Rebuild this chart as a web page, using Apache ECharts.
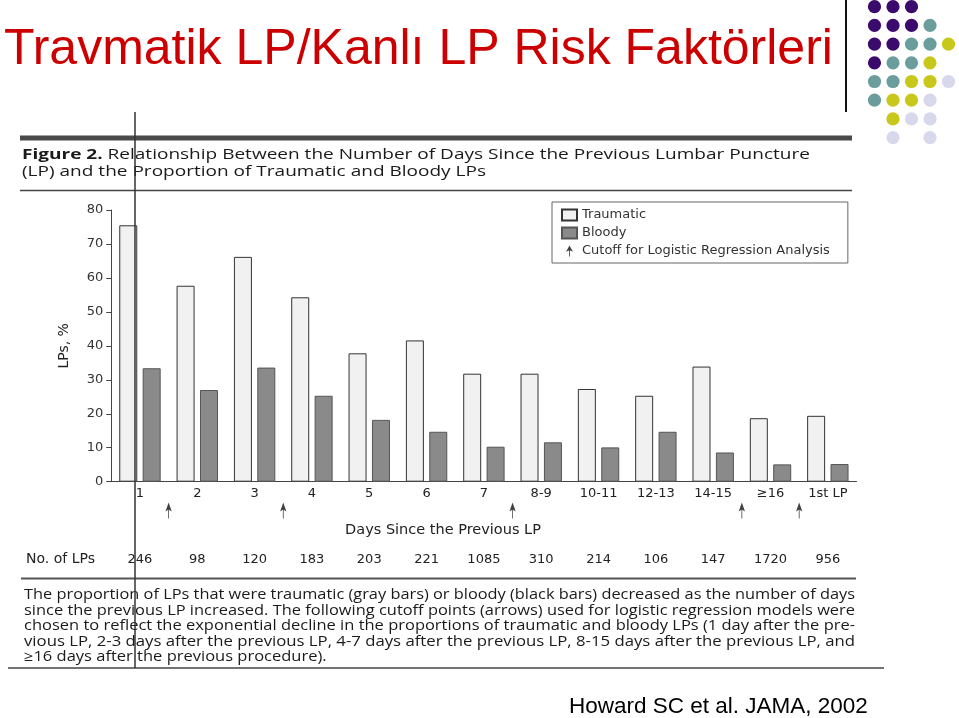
<!DOCTYPE html>
<html>
<head>
<meta charset="utf-8">
<script src="https://cdn.jsdelivr.net/npm/echarts@6/dist/echarts.min.js"></script>
<style>
html,body{margin:0;padding:0;background:#fff;}
#chart{width:959px;height:718px;}
</style>
</head>
<body>
<div id="chart"></div>
<script>
// ---- data ----
const categories = ['1','2','3','4','5','6','7','8-9','10-11','12-13','14-15','\u226516','1st LP'];
const traumatic = [75.5, 57.7, 66.2, 54.3, 37.8, 41.6, 31.8, 31.8, 27.3, 25.3, 33.9, 18.7, 19.4];
const bloody    = [33.4, 27.0, 33.6, 25.3, 18.2, 14.7, 10.3, 11.6, 10.1, 14.7, 8.6, 5.1, 5.2];
const lpCounts  = ['246','98','120','183','203','221','1085','310','214','106','147','1720','956'];
const cutoffs   = [1, 3, 7, 11, 12]; // category boundaries where arrows sit
const yMin = 0, yMax = 80, yInterval = 10;

const slideTitle = 'Travmatik LP/Kanl\u0131 LP Risk Fakt\u00f6rleri';
const citation = 'Howard SC et al. JAMA, 2002';
const figTitle1 = 'Relationship Between the Number of Days Since the Previous Lumbar Puncture';
const figTitle2 = '(LP) and the Proportion of Traumatic and Bloody LPs';
const captionLines = [
  'The proportion of LPs that were traumatic (gray bars) or bloody (black bars) decreased as the number of days',
  'since the previous LP increased. The following cutoff points (arrows) used for logistic regression models were',
  'chosen to reflect the exponential decline in the proportions of traumatic and bloody LPs (1 day after the pre-',
  'vious LP, 2-3 days after the previous LP, 4-7 days after the previous LP, 8-15 days after the previous LP, and',
  '\u226516 days after the previous procedure).'
];

const FIG = '"DejaVu Sans"';
const HUM = '"Open Sans"';
const arrowPath = 'path://M5,0 L10,9 L5,7 L0,9 Z M4.4,7 L5.6,7 L5.6,16 L4.4,16 Z';

// text measuring helper (for horizontally stretched scanned text)
const mctx = document.createElement('canvas').getContext('2d');
function textW(text, font) { mctx.font = font; return mctx.measureText(text).width; }

const figFont = '15px ' + HUM;
const figScale = 464 / textW(figTitle2, figFont);
const capFont = '14px ' + HUM;
const capScales = captionLines.slice(0, 4).map(t => 831 / textW(t, capFont));
const capAvg = capScales.reduce((a, b) => a + b, 0) / capScales.length;
capScales.push(capAvg);

// decorative dot pattern (top right)
const dotColors = {P:'#3a0b6c', T:'#6c9d9d', Y:'#c8c81c', L:'#d8d8ec'};
const dotRows = ['PPP..','PPPT.','PPTTY','PTTY.','TTYYL','TYYL.','.YLL.','.L.L.'];
const dots = [];
dotRows.forEach((row, r) => {
  row.split('').forEach((ch, c) => {
    if (ch !== '.') dots.push({type:'circle', shape:{cx:874.5 + c*18.5, cy:6.7 + r*18.7, r:6.6}, style:{fill:dotColors[ch]}, silent:true});
  });
});

const chart = echarts.init(document.getElementById('chart'), null, {renderer:'canvas', width:959, height:718});

const gridLeft = 111.3, gridRight = 959 - 856.5;

const option = {
  backgroundColor: '#ffffff',
  animation: false,
  legend: {
    orient: 'vertical',
    left: 552, top: 202,
    padding: [6, 18, 5, 9],
    itemWidth: 15, itemHeight: 11, itemGap: 4,
    borderColor: '#666', borderWidth: 1,
    textStyle: {fontFamily: FIG, fontSize: 13, color: '#333', lineHeight: 14},
    data: [
      {name: 'Traumatic', icon: 'rect'},
      {name: 'Bloody', icon: 'rect'},
      {name: 'Cutoff for Logistic Regression Analysis', icon: arrowPath}
    ]
  },
  grid: [
    {left: gridLeft, right: gridRight, top: 210, bottom: 718 - 481.7},
    {left: gridLeft, right: gridRight, top: 502, height: 17}
  ],
  xAxis: [
    {
      type: 'category', gridIndex: 0, data: categories,
      axisLine: {lineStyle: {color: '#444', width: 1}},
      axisTick: {show: false},
      axisLabel: {fontFamily: FIG, fontSize: 13, color: '#222', margin: 5}
    },
    {
      type: 'category', gridIndex: 0, position: 'bottom', offset: 66, data: lpCounts,
      axisLine: {show: false}, axisTick: {show: false},
      axisLabel: {fontFamily: FIG, fontSize: 13, color: '#222', margin: 5}
    },
    {type: 'value', gridIndex: 1, min: 0, max: categories.length, show: false}
  ],
  yAxis: [
    {
      type: 'value', gridIndex: 0, min: yMin, max: yMax, interval: yInterval,
      name: 'LPs, %', nameLocation: 'middle', nameGap: 40,
      nameTextStyle: {fontFamily: FIG, fontSize: 14, color: '#222'},
      axisLine: {show: true, lineStyle: {color: '#444', width: 1}},
      axisTick: {show: true, length: 5, lineStyle: {color: '#444'}},
      axisLabel: {fontFamily: FIG, fontSize: 13, color: '#333', margin: 8},
      splitLine: {show: false}
    },
    {type: 'value', gridIndex: 1, min: 0, max: 1, show: false}
  ],
  series: [
    {
      name: 'Traumatic', type: 'bar', xAxisIndex: 0, yAxisIndex: 0,
      data: traumatic, barWidth: 18, barGap: '30%',
      itemStyle: {color: '#f1f1f1', borderColor: '#333', borderWidth: 1}
    },
    {
      name: 'Bloody', type: 'bar', xAxisIndex: 0, yAxisIndex: 0,
      data: bloody, barWidth: 18,
      itemStyle: {color: '#8a8a8a', borderColor: '#555', borderWidth: 1}
    },
    {
      name: 'Cutoff for Logistic Regression Analysis', type: 'scatter', xAxisIndex: 2, yAxisIndex: 1,
      data: cutoffs.map(c => [c, 0.5]),
      symbol: arrowPath, symbolSize: [10, 16], symbolKeepAspect: true,
      itemStyle: {color: '#111'}, silent: true
    }
  ],
  graphic: [
    // slide title
    {type:'text', x:4, y:50, silent:true, style:{text: slideTitle, font:'50px "Liberation Sans"', fill:'#cc0000', verticalAlign:'middle'}},
    // vertical line near dots
    {type:'line', shape:{x1:846, y1:0, x2:846, y2:112}, style:{stroke:'#111', lineWidth:2}, silent:true},
    ...dots,
    // figure frame lines
    {type:'rect', shape:{x:20, y:135.5, width:832, height:5}, style:{fill:'#4a4a4a'}, silent:true},
    {type:'line', shape:{x1:20, y1:190.5, x2:852, y2:190.5}, style:{stroke:'#444', lineWidth:1.5}, silent:true},
    {type:'line', shape:{x1:21, y1:578.5, x2:856, y2:578.5}, style:{stroke:'#555', lineWidth:2}, silent:true},
    {type:'line', shape:{x1:8, y1:668, x2:884, y2:668}, style:{stroke:'#444', lineWidth:1.5}, silent:true},
    // figure title
    {type:'text', x:22, y:155, scaleX: figScale, silent:true, style:{
      text:'{b|Figure 2.} ' + figTitle1, verticalAlign:'middle', font:figFont, fill:'#1a1a1a',
      rich:{b:{fontFamily:'Open Sans', fontWeight:'bold', fontSize:15, fill:'#1a1a1a'}}
    }},
    {type:'text', x:22, y:172, scaleX: figScale, silent:true, style:{text: figTitle2, verticalAlign:'middle', font:figFont, fill:'#1a1a1a'}},
    // axis name
    {type:'text', x:443, y:530, silent:true, style:{text:'Days Since the Previous LP', align:'center', verticalAlign:'middle', font:'14.5px ' + FIG, fill:'#222'}},
    {type:'text', x:26, y:559, silent:true, style:{text:'No. of LPs', verticalAlign:'middle', font:'14px ' + FIG, fill:'#222'}},
    // caption
    ...captionLines.map((t, i) => ({type:'text', x:24, y:595 + i*15.6, scaleX: capScales[i], silent:true, style:{text:t, verticalAlign:'middle', font:capFont, fill:'#1a1a1a'}})),
    // long vertical line across the figure
    {type:'line', shape:{x1:135, y1:112, x2:135, y2:668}, style:{stroke:'#333', lineWidth:1.5}, silent:true, z:100},
    // citation
    {type:'text', x:569, y:707, silent:true, style:{text: citation, verticalAlign:'middle', font:'22.5px "Liberation Sans"', fill:'#000'}}
  ]
};
chart.setOption(option);
</script>
</body>
</html>
